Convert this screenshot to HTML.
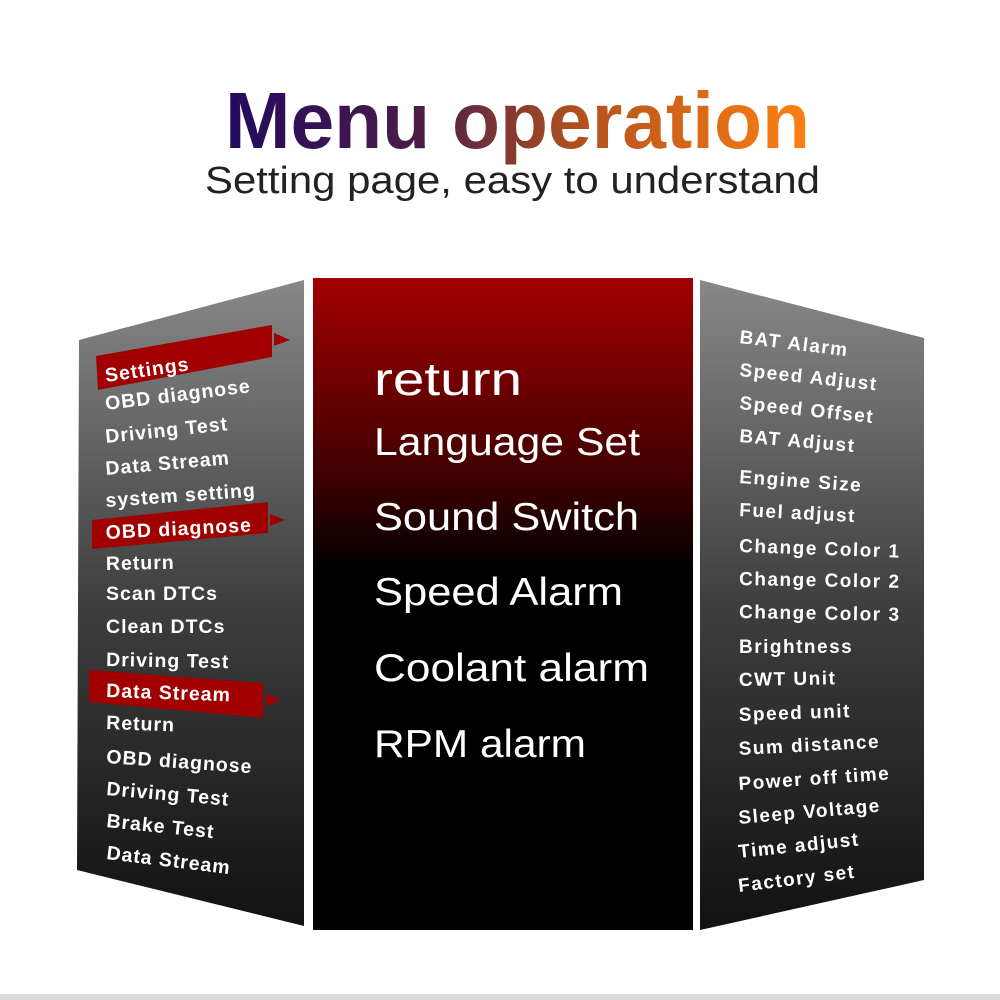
<!DOCTYPE html>
<html><head><meta charset="utf-8"><style>
html,body{margin:0;padding:0;background:#fff;}
svg{display:block;}
text{font-family:"Liberation Sans",sans-serif;}
</style></head><body>
<svg width="1000" height="1000" viewBox="0 0 1000 1000" xmlns="http://www.w3.org/2000/svg">
<defs>
<linearGradient id="tg" x1="225" y1="0" x2="810" y2="0" gradientUnits="userSpaceOnUse">
<stop offset="0" stop-color="#230a5e"/><stop offset="0.35" stop-color="#4e1e48"/><stop offset="0.6" stop-color="#b0501f"/><stop offset="1" stop-color="#ff8010"/>
</linearGradient>
<linearGradient id="cg" x1="0" y1="280" x2="0" y2="930" gradientUnits="userSpaceOnUse">
<stop offset="0" stop-color="#a20000"/><stop offset="0.3" stop-color="#400000"/><stop offset="0.45" stop-color="#000"/><stop offset="1" stop-color="#000"/>
</linearGradient>
<linearGradient id="sg" x1="0" y1="280" x2="0" y2="930" gradientUnits="userSpaceOnUse">
<stop offset="0" stop-color="#888"/><stop offset="0.5" stop-color="#3e3e3e"/><stop offset="1" stop-color="#111"/>
</linearGradient>
</defs>
<rect width="1000" height="1000" fill="#fff"/>
<rect x="0" y="994" width="1000" height="6" fill="#ddd"/>
<text x="225" y="148" font-size="80" font-weight="bold" fill="url(#tg)" textLength="585" lengthAdjust="spacingAndGlyphs">Menu operation</text>
<text x="205" y="193" font-size="38" fill="#222" textLength="615" lengthAdjust="spacingAndGlyphs">Setting page, easy to understand</text>

<polygon points="79,340 304,280 304,926 77,870" fill="url(#sg)"/>
<polygon points="700,280 924,338 924,880 700,930" fill="url(#sg)"/>
<rect x="313" y="278" width="380" height="652" fill="url(#cg)"/>

<polygon points="96,356 272,325 272,357 98,390" fill="#a00000"/>
<polygon points="274,333 290,340 274,346" fill="#a00000"/>
<polygon points="92,520 268,502 268,533 92,549" fill="#a00000"/>
<polygon points="270,514 285,520 270,526" fill="#a00000"/>
<polygon points="89,670 263,683 263,718 89,702" fill="#a00000"/>
<polygon points="266,694 281,700 266,706" fill="#a00000"/>

<g fill="#fff" font-size="19.5" font-weight="bold" letter-spacing="1">
<text transform="translate(106,382) rotate(-8)">Settings</text>
<text transform="translate(106,410) rotate(-7)">OBD diagnose</text>
<text transform="translate(106,443) rotate(-6)">Driving Test</text>
<text transform="translate(106,475) rotate(-5)">Data Stream</text>
<text transform="translate(106,507) rotate(-4)">system setting</text>
<text transform="translate(106,539) rotate(-3)">OBD diagnose</text>
<text transform="translate(106,570) rotate(-1)">Return</text>
<text transform="translate(106,600) rotate(0)">Scan DTCs</text>
<text transform="translate(106,633) rotate(0)">Clean DTCs</text>
<text transform="translate(106,666) rotate(1)">Driving Test</text>
<text transform="translate(106,697) rotate(2)">Data Stream</text>
<text transform="translate(106,729) rotate(2)">Return</text>
<text transform="translate(106,763) rotate(4)">OBD diagnose</text>
<text transform="translate(106,795) rotate(5)">Driving Test</text>
<text transform="translate(106,827) rotate(6)">Brake Test</text>
<text transform="translate(106,859) rotate(7)">Data Stream</text>
</g>

<g fill="#fff" font-size="19" font-weight="bold" letter-spacing="1.5">
<text transform="translate(739,343) rotate(7)">BAT Alarm</text>
<text transform="translate(739,376) rotate(6)">Speed Adjust</text>
<text transform="translate(739,409) rotate(6)">Speed Offset</text>
<text transform="translate(739,442) rotate(5)">BAT Adjust</text>
<text transform="translate(739,483) rotate(4)">Engine Size</text>
<text transform="translate(739,516) rotate(3)">Fuel adjust</text>
<text transform="translate(739,552) rotate(2)">Change Color 1</text>
<text transform="translate(739,585) rotate(1)">Change Color 2</text>
<text transform="translate(739,618) rotate(1)">Change Color 3</text>
<text transform="translate(739,653) rotate(0)">Brightness</text>
<text transform="translate(739,686) rotate(-1)">CWT Unit</text>
<text transform="translate(739,721) rotate(-2)">Speed unit</text>
<text transform="translate(739,755) rotate(-3)">Sum distance</text>
<text transform="translate(739,790) rotate(-4)">Power off time</text>
<text transform="translate(739,824) rotate(-5)">Sleep Voltage</text>
<text transform="translate(739,858) rotate(-6)">Time adjust</text>
<text transform="translate(739,892) rotate(-7)">Factory set</text>
</g>

<g fill="#fff">
<text x="374" y="395" font-size="46" textLength="148" lengthAdjust="spacingAndGlyphs">return</text>
<text x="374" y="455" font-size="39" textLength="266" lengthAdjust="spacingAndGlyphs">Language Set</text>
<text x="374" y="530" font-size="39" textLength="265" lengthAdjust="spacingAndGlyphs">Sound Switch</text>
<text x="374" y="605" font-size="39" textLength="249" lengthAdjust="spacingAndGlyphs">Speed Alarm</text>
<text x="374" y="681" font-size="39" textLength="275" lengthAdjust="spacingAndGlyphs">Coolant alarm</text>
<text x="374" y="757" font-size="39" textLength="212" lengthAdjust="spacingAndGlyphs">RPM alarm</text>
</g>
</svg>
</body></html>
